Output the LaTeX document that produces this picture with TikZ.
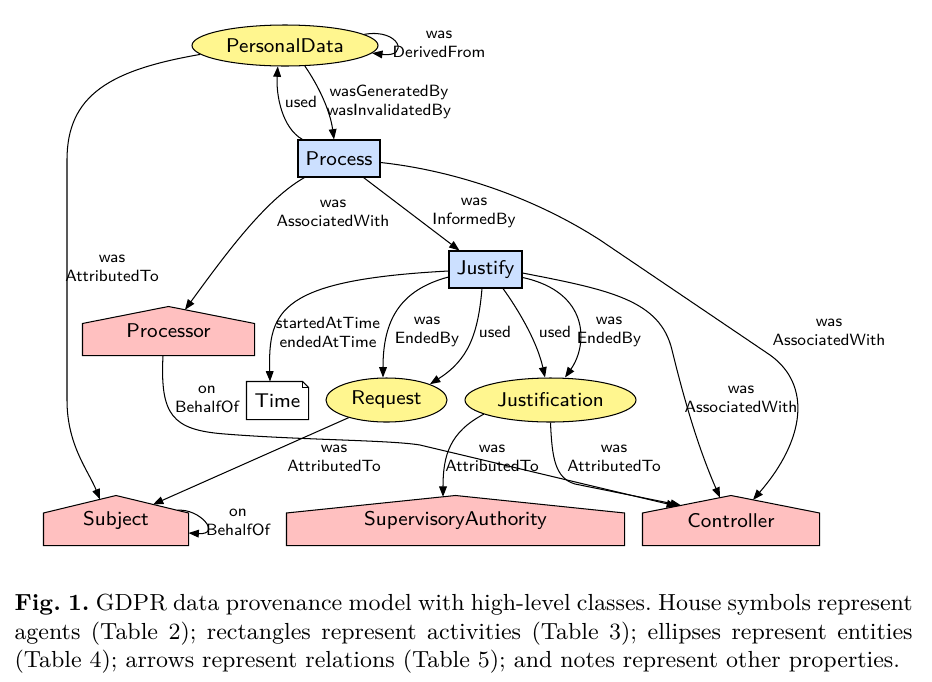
\documentclass[tikz,border=0pt]{standalone}
\usepackage{fontspec}
\usetikzlibrary{arrows.meta,shapes.geometric,backgrounds}
\definecolor{entfill}{HTML}{FFF68F}
\definecolor{actfill}{HTML}{CCE0FF}
\definecolor{agfill}{HTML}{FFC0C0}
\def\ux{0.3866pt}
\newcommand\housepath[2]{%
  \path[houseline] (#1.south west) -- ([shift={(0,#2)}]#1.north west) -- (#1.north)
    -- ([shift={(0,#2)}]#1.north east) -- (#1.south east) -- cycle;}
\begin{document}
\begin{tikzpicture}[x=\ux,y=-\ux,
  nfont/.style={font=\sffamily\fontsize{7.7}{9}\selectfont},
  lbl/.style={font=\sffamily\fontsize{6.3}{7.3}\selectfont, align=center, inner sep=0pt},
  ent/.style={ellipse, draw, line width=0.4pt, fill=entfill, inner sep=0pt, nfont},
  act/.style={rectangle, draw, line width=0.4pt, fill=actfill, inner sep=0pt, minimum height=37*\ux, nfont},
  agent/.style={rectangle, inner sep=0pt, minimum height=49*\ux, nfont},
  notebox/.style={rectangle, inner sep=0pt, minimum width=61*\ux, minimum height=37*\ux, nfont},
  arr/.style={-{Triangle[length=4pt,width=3pt]}, line width=0.4pt},
  houseline/.style={draw, fill=agfill, line width=0.4pt},
  noteline/.style={draw, fill=white, line width=0.4pt}]
\useasboundingbox (0,0) rectangle (932,681);

% nodes
\node[ent, minimum width=186*\ux, minimum height=41*\ux] (pd) at (285,45.5) {PersonalData};
\node[act, minimum width=82*\ux] (proc) at (339,158.5) {Process};
\node[act, minimum width=73*\ux] (jus) at (485.5,269.5) {Justify};
\node[agent, minimum width=171*\ux, minimum height=48*\ux] (prc) at (168.5,331) {Processor};
\node[notebox] (time) at (277.5,400.5) {Time};
\node[ent, minimum width=121*\ux, minimum height=44*\ux] (req) at (386.5,400) {Request};
\node[ent, minimum width=171*\ux, minimum height=44*\ux] (jf) at (550.5,400) {Justification};
\node[agent, minimum width=144*\ux] (subj) at (116,520.5) {Subject};
\node[agent, minimum width=337*\ux] (sa) at (455.5,520.5) {SupervisoryAuthority};
\node[agent, minimum width=176*\ux] (ctrl) at (731,520.5) {Controller};

\begin{scope}[on background layer]
  \fill[white] (0,0) rectangle (932,681);
  \housepath{prc}{17}
  \housepath{subj}{17.5}
  \housepath{sa}{17.5}
  \housepath{ctrl}{17.5}
  \path[noteline] (time.south west) -- (time.north west) -- ([shift={(-6,0)}]time.north east)
    -- ([shift={(0,6)}]time.north east) -- (time.south east) -- cycle;
\end{scope}
\draw[line width=0.4pt] ([shift={(-6,0)}]time.north east) -- ([shift={(-6,6)}]time.north east) -- ([shift={(0,6)}]time.north east);

% edges
\draw[arr] (pd.8.5) .. controls (400,28) and (410,58) .. (pd.-5);
\draw[arr] ([shift={(5,0)}]proc.north west) .. controls (282,128) and (276,95) .. (pd.251.6);
\draw[arr] (pd.-46.4) .. controls (318,85) and (330,110) .. ([shift={(-5,0)}]proc.north);
\draw[arr] ([shift={(7,0)}]proc.south west) .. controls (265,200) and (225,255) .. ([shift={(16.5,3.3)}]prc.north);
\draw[arr] ([shift={(-17,0)}]proc.south east) -- ([shift={(11,0)}]jus.north west);
\draw[arr] ([shift={(0,4)}]proc.east) .. controls (450,170) and (530,195) .. (600,240) -- (770,355)
  .. controls (812,385) and (805,440) .. ([shift={(22,4.4)}]ctrl.north);
\draw[arr] ([shift={(0,3.5)}]jus.east) .. controls (610,290) and (660,300) .. (672,350)
  .. controls (683,395) and (697,445) .. ([shift={(-11,2.2)}]ctrl.north);
\draw[arr] ([shift={(0,8)}]jus.east) .. controls (590,292) and (588,345) .. ([shift={(14.5,0)}]jf.north);
\draw[arr] ([shift={(17.5,0)}]jus.south) .. controls (522,315) and (538,345) .. ([shift={(-5.5,0)}]jf.north);
\draw[arr] ([shift={(-3.5,0)}]jus.south) .. controls (478,335) and (468,360) .. (req.20);
\draw[arr] ([shift={(0,7.5)}]jus.west) .. controls (400,290) and (383,320) .. ([shift={(-3.5,0)}]req.north);
\draw[arr] ([shift={(0,1.5)}]jus.west) .. controls (280,280) and (268,310) .. ([shift={(-7.5,0)}]time.north);
\draw[arr] (pd.186) .. controls (110,70) and (67,95) .. (67,160) -- (67,400)
  .. controls (67,445) and (88,470) .. ([shift={(-16,3.9)}]subj.north);
\draw[arr] ([shift={(-5.5,0)}]prc.south) .. controls (160,415) and (172,430) .. (225,434)
  .. controls (300,440) and (390,440) .. (420,445) -- ([shift={(-54,10.7)}]ctrl.north);
\draw[arr] (jf.south) .. controls (552,458) and (555,478) .. (575,484) -- ([shift={(-50,9.9)}]ctrl.north);
\draw[arr] (jf.192) .. controls (450,432) and (443,455) .. ([shift={(-12.5,1.3)}]sa.north);
\draw[arr] (req.205) -- ([shift={(37,9)}]subj.north);
\draw[arr] ([shift={(61,14.8)}]subj.north) .. controls (200,508) and (222,535) .. ([shift={(0,12.5)}]subj.east);

% labels
\node[lbl] (l1) at (439,44) {was\\DerivedFrom};
\node[lbl] (l2) at (301,102) {used};
\node[lbl] (l3) at (389,102) {wasGeneratedBy\\wasInvalidatedBy};
\node[lbl] (l4) at (333,213) {was\\AssociatedWith};
\node[lbl] (l5) at (474,213) {was\\InformedBy};
\node[lbl] (l6) at (112,268) {was\\AttributedTo};
\node[lbl] (l7) at (328,332) {startedAtTime\\endedAtTime};
\node[lbl] (l8) at (427,332) {was\\EndedBy};
\node[lbl] (l9) at (495,332) {used};
\node[lbl] (l10) at (555,332) {used};
\node[lbl] (l11) at (609,332) {was\\EndedBy};
\node[lbl] (l12) at (829,332) {was\\AssociatedWith};
\node[lbl] (l13) at (741,399) {was\\AssociatedWith};
\node[lbl] (l14) at (207,399) {on\\BehalfOf};
\node[lbl] (l15) at (334,458) {was\\AttributedTo};
\node[lbl] (l16) at (492,458) {was\\AttributedTo};
\node[lbl] (l17) at (614,458) {was\\AttributedTo};
\node[lbl] (l18) at (238,522) {on\\BehalfOf};

% caption
\node[anchor=north west, inner sep=0pt, text width=347.2pt, align=justify,
      font=\fontsize{9}{11}\selectfont] (cap) at (14,594)
  {\frenchspacing\hyphenpenalty=10000 \textbf{Fig.~1.} GDPR data provenance model with high-level classes. House symbols represent agents (Table~2); rectangles represent activities (Table~3); ellipses represent entities (Table~4); arrows represent relations (Table~5); and notes represent other properties.};
\end{tikzpicture}
\end{document}
